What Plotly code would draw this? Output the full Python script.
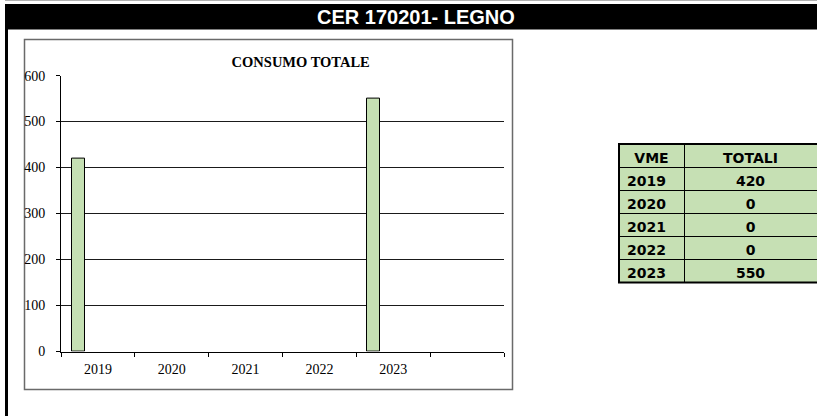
import plotly.graph_objects as go

# ---- data ----
years = ["2019", "2020", "2021", "2022", "2023"]
totals = [420, 0, 0, 0, 550]
y_ticks = [0, 100, 200, 300, 400, 500, 600]
header_title = "CER 170201- LEGNO"
chart_title = "CONSUMO TOTALE"
table_header = ["VME", "TOTALI"]

W, H = 817, 416
def px(x):
    return x / W
def py(y):
    return 1 - y / H

n_slots = len(years) + 1  # one empty slot on the right, as in the original
positions = list(range(len(years)))
bar_values = [v if v > 0 else None for v in totals]

BAR_FILL = "#C5E0B3"
TABLE_FILL = "#C6E0B4"

fig = go.Figure()

fig.add_trace(go.Bar(
    x=positions, y=bar_values,
    offset=-0.352, width=0.178,
    marker=dict(color=BAR_FILL, line=dict(color="black", width=1)),
    showlegend=False, hoverinfo="skip",
))

fig.add_trace(go.Table(
    domain=dict(x=[px(619), 1.0], y=[py(283), py(144)]),
    columnwidth=[65, 133],
    header=dict(
        values=table_header,
        fill_color=TABLE_FILL,
        line=dict(color="black", width=1),
        align=["center", "center"],
        height=23,
        font=dict(family="DejaVu Sans", size=14, color="black", weight="bold"),
    ),
    cells=dict(
        values=[years, [str(v) for v in totals]],
        fill_color=TABLE_FILL,
        line=dict(color="black", width=1),
        align=["left", "center"],
        height=23,
        font=dict(family="DejaVu Sans", size=14, color="black", weight="bold"),
    ),
))

shapes = [
    dict(type="line", xref="paper", yref="paper", x0=px(5), x1=1, y0=py(0.5), y1=py(0.5),
         line=dict(color="#b0b0b0", width=1)),
    dict(type="rect", xref="paper", yref="paper", x0=px(5), x1=1, y0=py(29.5), y1=py(4),
         fillcolor="black", line=dict(width=0), layer="below"),
    dict(type="rect", xref="paper", yref="paper", x0=px(5), x1=px(8), y0=0, y1=py(29),
         fillcolor="black", line=dict(width=0), layer="below"),
    dict(type="rect", xref="paper", yref="paper", x0=px(24.5), x1=px(512.5), y0=py(389.5), y1=py(39.5),
         line=dict(color="#6a6a6a", width=1.5), layer="below"),
    dict(type="rect", xref="paper", yref="paper", x0=px(619), x1=px(822), y0=py(282.5), y1=py(144),
         line=dict(color="black", width=2)),
]

annotations = [
    dict(text=header_title, xref="paper", yref="paper", x=px(415.5), y=py(17),
         xanchor="center", yanchor="middle", showarrow=False,
         font=dict(family="Liberation Sans Narrow, Liberation Sans", size=20, color="white", weight="bold")),
]

fig.update_layout(
    template="none",
    width=W, height=H, autosize=False,
    margin=dict(l=0, r=0, t=0, b=0, pad=0, autoexpand=False),
    paper_bgcolor="white", plot_bgcolor="rgba(0,0,0,0)",
    shapes=shapes, annotations=annotations,
    showlegend=False,
    title=dict(text=chart_title, x=px(300.7), xanchor="center", xref="paper",
               y=py(62), yanchor="middle", yref="paper",
               font=dict(family="Liberation Serif", size=14.5, color="black", weight="bold")),
    bargap=0,
    xaxis=dict(
        domain=[px(61), px(504)],
        range=[-0.5, n_slots - 0.5],
        tickmode="array", tickvals=positions, ticktext=years,
        ticks="", showgrid=False, zeroline=False, automargin=False,
        showline=True, linecolor="black", linewidth=1,
        tickfont=dict(family="Liberation Serif", size=14, color="black"),
        ticklabelstandoff=5,
        minor=dict(ticks="outside", ticklen=4, tickcolor="black", tickwidth=1,
                   tickmode="linear", tick0=-0.5, dtick=1, showgrid=False),
        fixedrange=True,
    ),
    yaxis=dict(
        domain=[py(351.5), py(75.6)],
        range=[0, 600],
        tickmode="array", tickvals=y_ticks,
        ticks="outside", ticklen=4, tickcolor="black", automargin=False,
        showgrid=True, gridcolor="#1a1a1a", gridwidth=1,
        zeroline=False, showline=True, linecolor="black", linewidth=1,
        tickfont=dict(family="Liberation Serif", size=14, color="black"),
        ticklabelstandoff=8,
        fixedrange=True,
    ),
)

fig.write_html(
    "out.html",
    config={"displayModeBar": False},
    post_script="document.body.style.margin='0';document.body.style.overflow='hidden';",
)
